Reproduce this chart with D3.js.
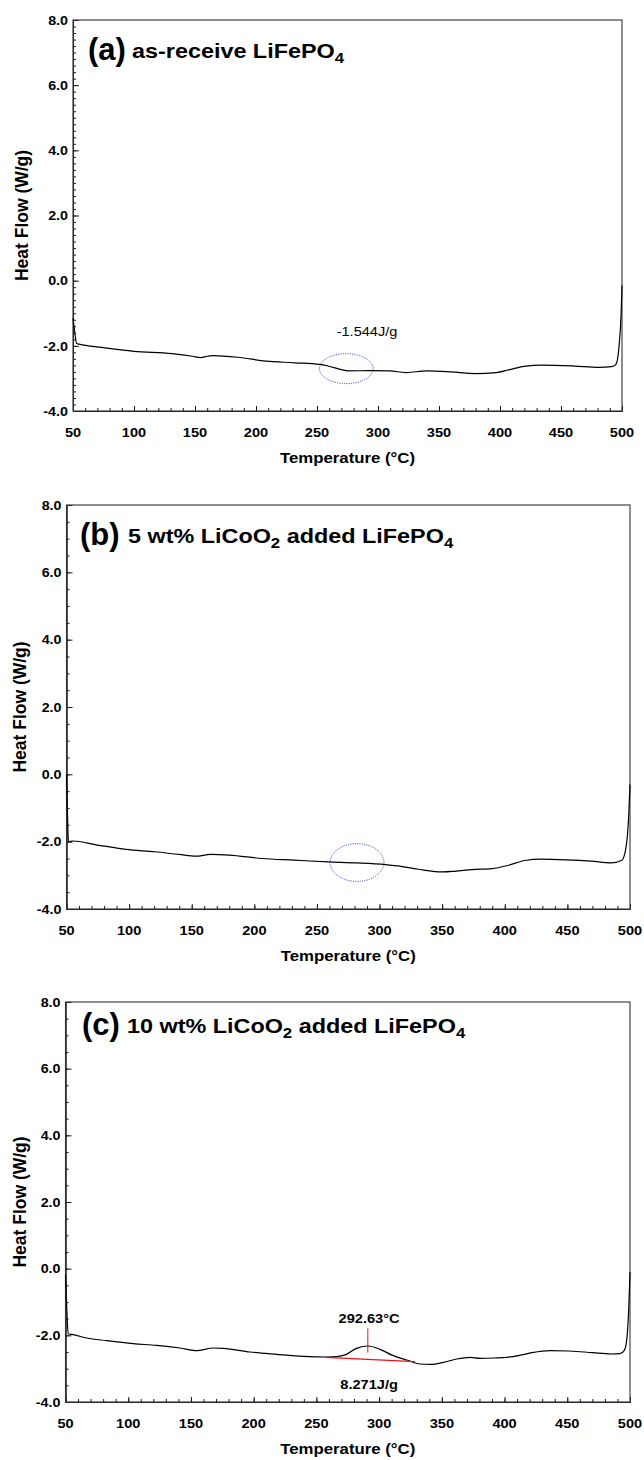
<!DOCTYPE html>
<html><head><meta charset="utf-8">
<script src="https://cdn.jsdelivr.net/npm/d3@7/dist/d3.min.js"></script>
<style>body{margin:0;background:#fff}svg{display:block}</style>
</head><body><svg id="chart" width="644" height="1460"></svg>
<script>
// ---- data ----
const xTickVals = [50,100,150,200,250,300,350,400,450,500];
const xTickLabels = ["50","100","150","200","250","300","350","400","450","500"];
const yTickVals = [-4,-2,0,2,4,6,8];
const yTickLabels = ["-4.0","-2.0","0.0","2.0","4.0","6.0","8.0"];

const tempA = [50,51.5,53,55,73.6,100,131,148,154.5,160,164.6,185,208,232,252,259,269,276,293,309.6,323,340,360,380,397,407,421,434,461,481,491.5,495,497.6,499.3,500];
const heatA = [-1.15,-1.6,-1.93,-1.95,-2.05,-2.17,-2.24,-2.32,-2.36,-2.32,-2.3,-2.35,-2.47,-2.52,-2.57,-2.62,-2.72,-2.77,-2.76,-2.77,-2.82,-2.77,-2.8,-2.85,-2.82,-2.74,-2.62,-2.59,-2.62,-2.66,-2.64,-2.57,-2.0,-1.0,-0.15];

const tempB = [50,50.8,51.6,55,74.6,97.6,120.6,140,153.5,165,180,206,232,258.6,281.6,304.6,314.5,331,350.6,360,373.6,390,403,416,429,449,469,485,493.5,496.7,499,500];
const heatB = [0.0,-1.2,-2.0,-1.98,-2.1,-2.23,-2.3,-2.38,-2.43,-2.38,-2.4,-2.5,-2.55,-2.6,-2.63,-2.68,-2.72,-2.82,-2.9,-2.88,-2.83,-2.8,-2.7,-2.56,-2.52,-2.54,-2.58,-2.63,-2.55,-2.2,-1.2,-0.3];

const tempC = [50,51,52.2,56.2,66.8,82.8,104,122.7,141.3,154.6,167.8,175.8,197,218.4,239.6,258.3,266,274,282,291.4,300.7,311.3,322,332.6,340.6,351.2,361.8,372.5,380.4,392,402,412,422,436,452,470,485,492,495.5,497.5,499.2,500];
const heatC = [-0.2,-1.2,-1.96,-1.98,-2.08,-2.16,-2.25,-2.3,-2.38,-2.46,-2.38,-2.39,-2.5,-2.57,-2.63,-2.65,-2.64,-2.57,-2.39,-2.32,-2.42,-2.61,-2.74,-2.86,-2.87,-2.81,-2.71,-2.66,-2.69,-2.68,-2.66,-2.6,-2.52,-2.46,-2.47,-2.52,-2.56,-2.55,-2.45,-2.1,-1.0,-0.1];

const titleA = [["as-receive LiFePO",0],["4",1]];
const titleB = [["5 wt% LiCoO",0],["2",1],[" added LiFePO",0],["4",1]];
const titleC = [["10 wt% LiCoO",0],["2",1],[" added LiFePO",0],["4",1]];

// ---- drawing ----
const svg = d3.select("#chart");
const FONT = "'Liberation Sans', Arial, Helvetica, sans-serif";

function text(g, x, y, str, o) {
  o = o || {};
  return g.append("text")
    .attr("transform", `translate(${x},${y}) scale(${o.sx||1},1)`)
    .attr("text-anchor", o.anchor || "start")
    .attr("font-family", FONT)
    .attr("font-weight", o.weight || "bold")
    .attr("font-size", o.size || 13)
    .attr("fill", o.fill || "#000")
    .text(str);
}

function panel(cfg) {
  const g = svg.append("g");
  const x = d3.scaleLinear().domain([50,500]).range([cfg.x0, cfg.x1]);
  const y = d3.scaleLinear().domain([-4,8]).range([cfg.y1, cfg.y0]);

  const xMinor = d3.range(0,46).map(i=>50+i*10);
  const nY = Math.round(12/cfg.minorY);
  const yMinor = d3.range(0,nY+1).map(i=>+(-4+i*cfg.minorY).toFixed(2));

  g.append("g").attr("transform",`translate(0,${cfg.y1})`)
    .call(d3.axisBottom(x).tickValues(xMinor).tickSizeInner(-3).tickSizeOuter(0).tickFormat(""));
  g.append("g").attr("transform",`translate(0,${cfg.y1})`)
    .call(d3.axisBottom(x).tickValues(xTickVals).tickSizeInner(-5).tickSizeOuter(0).tickFormat(""));
  g.append("g").attr("transform",`translate(${cfg.x0},0)`)
    .call(d3.axisLeft(y).tickValues(yMinor).tickSizeInner(-3).tickSizeOuter(0).tickFormat(""));
  g.append("g").attr("transform",`translate(${cfg.x0},0)`)
    .call(d3.axisLeft(y).tickValues(yTickVals).tickSizeInner(-6).tickSizeOuter(0).tickFormat(""));
  g.selectAll(".domain, .tick line").attr("stroke","#1a1a1a").attr("stroke-width",1);

  g.append("rect").attr("x",cfg.x0).attr("y",cfg.y0)
    .attr("width",cfg.x1-cfg.x0).attr("height",cfg.y1-cfg.y0)
    .attr("fill","none").attr("stroke","#333").attr("stroke-width",1.1);

  xTickVals.forEach((v,i)=> text(g, x(v), cfg.y1+25.5, xTickLabels[i], {anchor:"middle", size:13.5, sx:1.08}));
  yTickVals.forEach((v,i)=> text(g, cfg.x0-5, y(v)+4.7, yTickLabels[i], {anchor:"end", size:13, sx:1.1}));

  text(g, (cfg.x0+cfg.x1)/2, cfg.y1+52, "Temperature (\u00B0C)", {anchor:"middle", size:15, sx:1.12});
  g.append("text")
    .attr("transform", `translate(${cfg.ytx},${(cfg.y0+cfg.y1)/2}) rotate(-90) scale(1,1.05)`)
    .attr("text-anchor","middle").attr("dy","0.35em")
    .attr("font-family",FONT).attr("font-weight","bold").attr("font-size",17.5)
    .text("Heat Flow (W/g)");

  text(g, cfg.tagX, cfg.base+2, cfg.tag, {size:31});
  const t = text(g, cfg.textX, cfg.base, "", {size:19.5, sx:1.2});
  let shifted = false;
  cfg.title.forEach(([s,sub])=>{
    const sp = t.append("tspan").text(s);
    if (sub) { sp.attr("font-size",14).attr("dy",5); shifted = true; }
    else if (shifted) { sp.attr("dy",-5); shifted = false; }
  });

  const line = d3.line().x(d=>x(d[0])).y(d=>y(d[1])).curve(d3.curveMonotoneX);
  g.append("path").datum(cfg.temp.map((t,i)=>[t,cfg.heat[i]]))
    .attr("d",line).attr("fill","none").attr("stroke","#000").attr("stroke-width",1.2);

  return {g,x,y};
}

const A = panel({x0:73,x1:622,y0:20,y1:411,minorY:0.2,ytx:22,tag:"(a)",tagX:88,textX:132,base:58,title:titleA,temp:tempA,heat:heatA});
const B = panel({x0:66.5,x1:630,y0:505,y1:909,minorY:0.5,ytx:20,tag:"(b)",tagX:80,textX:128,base:543,title:titleB,temp:tempB,heat:heatB});
const C = panel({x0:65.5,x1:630,y0:1002,y1:1402,minorY:0.5,ytx:20,tag:"(c)",tagX:82,textX:127,base:1033,title:titleC,temp:tempC,heat:heatC});

function ellipse(P, cx, cy, rxT, ryV) {
  P.g.append("ellipse")
    .attr("cx",P.x(cx)).attr("cy",P.y(cy))
    .attr("rx",P.x(cx+rxT)-P.x(cx)).attr("ry",P.y(cy)-P.y(cy+ryV))
    .attr("fill","none").attr("stroke","#2233ee").attr("stroke-width",1)
    .attr("stroke-dasharray","1 1.3");
}
ellipse(A, 274, -2.7, 22, 0.46);
text(A.g, A.x(291), A.y(-1.55)+4.5, "-1.544J/g", {anchor:"middle", size:13, weight:"normal", sx:1.12});
ellipse(B, 282, -2.62, 21.5, 0.56);

C.g.append("line").attr("x1",C.x(291)).attr("x2",C.x(291))
  .attr("y1",C.y(-1.79)).attr("y2",C.y(-2.52)).attr("stroke","#ee1111").attr("stroke-width",1);
C.g.append("line").attr("x1",C.x(257)).attr("x2",C.x(328.6))
  .attr("y1",C.y(-2.66)).attr("y2",C.y(-2.79)).attr("stroke","#ee1111").attr("stroke-width",1.2);
text(C.g, C.x(292), C.y(-1.48)+4.8, "292.63\u00B0C", {anchor:"middle", size:13.5, sx:1.08});
text(C.g, C.x(292), C.y(-3.46)+4.8, "8.271J/g", {anchor:"middle", size:13.5, sx:1.08});
</script>
</body></html>
